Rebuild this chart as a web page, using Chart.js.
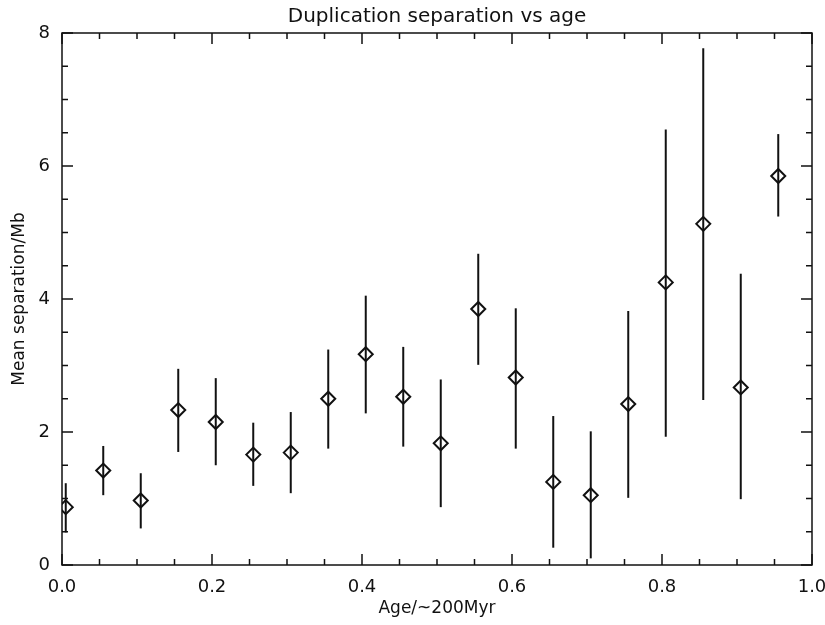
<!DOCTYPE html>
<html>
<head>
<meta charset="utf-8">
<script src="https://cdn.jsdelivr.net/npm/chart.js@4.4.1/dist/chart.umd.min.js"></script>
<style>
    html, body { margin: 0; padding: 0; background: #fff; }
    #wrap { width: 825px; height: 625px; }
</style>
</head>
<body>
<div id="wrap"><canvas id="sepChart" width="825" height="625"></canvas></div>
<script>
// Age bins (x) and mean separation with error bar ends (y)
const ages = [0.005, 0.055, 0.105, 0.155, 0.205, 0.255, 0.305, 0.355, 0.405, 0.455,
              0.505, 0.555, 0.605, 0.655, 0.705, 0.755, 0.805, 0.855, 0.905, 0.955];
const means = [0.87, 1.42, 0.97, 2.33, 2.15, 1.66, 1.69, 2.50, 3.17, 2.53,
               1.83, 3.85, 2.82, 1.25, 1.05, 2.42, 4.25, 5.13, 2.67, 5.85];
const upper = [1.23, 1.79, 1.38, 2.95, 2.81, 2.14, 2.30, 3.24, 4.05, 3.28,
               2.79, 4.68, 3.86, 2.24, 2.01, 3.82, 6.55, 7.77, 4.38, 6.48];
const lower = [0.49, 1.05, 0.55, 1.70, 1.50, 1.19, 1.08, 1.75, 2.28, 1.78,
               0.87, 3.01, 1.75, 0.26, 0.10, 1.01, 1.93, 2.48, 0.99, 5.24];

// Axis tick settings
const xMajorStep = 0.2;
const yMajorStep = 2;

const ink = '#111';
const fontFamily = '"DejaVu Sans", sans-serif';

function isMajor(value, step) {
    const r = value / step;
    return Math.abs(r - Math.round(r)) < 1e-6;
}

/**
 * Draw vertical error bars from the lower/upper arrays
 */
const errorBarPlugin = {
    id: 'errorBars',
    afterDatasetsDraw(chart) {
        const { ctx, scales: { x, y } } = chart;
        ctx.save();
        ctx.strokeStyle = ink;
        ctx.lineWidth = 2;
        ages.forEach((a, i) => {
            const px = x.getPixelForValue(a);
            ctx.beginPath();
            ctx.moveTo(px, y.getPixelForValue(lower[i]));
            ctx.lineTo(px, y.getPixelForValue(upper[i]));
            ctx.stroke();
        });
        ctx.restore();
    }
};

/**
 * Draw the box frame with inward ticks on all four sides
 */
const framePlugin = {
    id: 'frame',
    afterDraw(chart) {
        const { ctx, chartArea: area, scales: { x, y } } = chart;
        ctx.save();
        ctx.strokeStyle = ink;
        ctx.lineWidth = 1.5;
        ctx.strokeRect(area.left, area.top, area.right - area.left, area.bottom - area.top);

        ctx.beginPath();
        x.ticks.forEach(t => {
            const px = x.getPixelForValue(t.value);
            const len = isMajor(t.value, xMajorStep) ? 11 : 6;
            ctx.moveTo(px, area.bottom);
            ctx.lineTo(px, area.bottom - len);
            ctx.moveTo(px, area.top);
            ctx.lineTo(px, area.top + len);
        });
        y.ticks.forEach(t => {
            const py = y.getPixelForValue(t.value);
            const len = isMajor(t.value, yMajorStep) ? 11 : 6;
            ctx.moveTo(area.left, py);
            ctx.lineTo(area.left + len, py);
            ctx.moveTo(area.right, py);
            ctx.lineTo(area.right - len, py);
        });
        ctx.stroke();
        ctx.restore();
    }
};

const chart = new Chart(document.getElementById('sepChart'), {
    type: 'scatter',
    data: {
        datasets: [{
            label: 'Mean separation',
            data: ages.map((a, i) => ({ x: a, y: means[i] })),
            pointStyle: 'rectRot',
            pointRadius: 7,
            pointHoverRadius: 7,
            pointBorderWidth: 2,
            borderColor: ink,
            backgroundColor: 'rgba(0,0,0,0)'
        }]
    },
    options: {
        responsive: false,
        animation: false,
        layout: { padding: { left: 0, right: 13, top: 0, bottom: 0 } },
        plugins: {
            legend: { display: false },
            tooltip: { enabled: false },
            title: {
                display: true,
                text: 'Duplication separation vs age',
                fullSize: false,
                color: ink,
                font: { family: fontFamily, size: 20, weight: 'normal' },
                padding: { top: 5, bottom: 4 }
            }
        },
        scales: {
            x: {
                type: 'linear',
                min: 0,
                max: 1,
                afterFit(scale) {
                    scale.height = 60;
                    scale.paddingLeft = 0;
                    scale.paddingRight = 0;
                },
                grid: { display: false, drawTicks: false },
                border: { display: false },
                ticks: {
                    stepSize: 0.05,
                    autoSkip: false,
                    maxRotation: 0,
                    padding: 12,
                    color: ink,
                    font: { family: fontFamily, size: 18 },
                    callback: v => isMajor(v, xMajorStep) ? v.toFixed(1) : ''
                },
                title: {
                    display: true,
                    text: 'Age/~200Myr',
                    color: ink,
                    font: { family: fontFamily, size: 17 },
                    padding: { top: 0, bottom: 6 }
                }
            },
            y: {
                min: 0,
                max: 8,
                afterFit(scale) {
                    scale.width = 62;
                    scale.paddingTop = 0;
                    scale.paddingBottom = 0;
                },
                grid: { display: false, drawTicks: false },
                border: { display: false },
                ticks: {
                    stepSize: 0.5,
                    autoSkip: false,
                    padding: 12,
                    color: ink,
                    font: { family: fontFamily, size: 18 },
                    callback: v => isMajor(v, yMajorStep) ? String(v) : ''
                },
                title: {
                    display: true,
                    text: 'Mean separation/Mb',
                    color: ink,
                    font: { family: fontFamily, size: 17 },
                    padding: { top: 9, bottom: 0 }
                }
            }
        }
    },
    plugins: [errorBarPlugin, framePlugin]
});
</script>
</body>
</html>
